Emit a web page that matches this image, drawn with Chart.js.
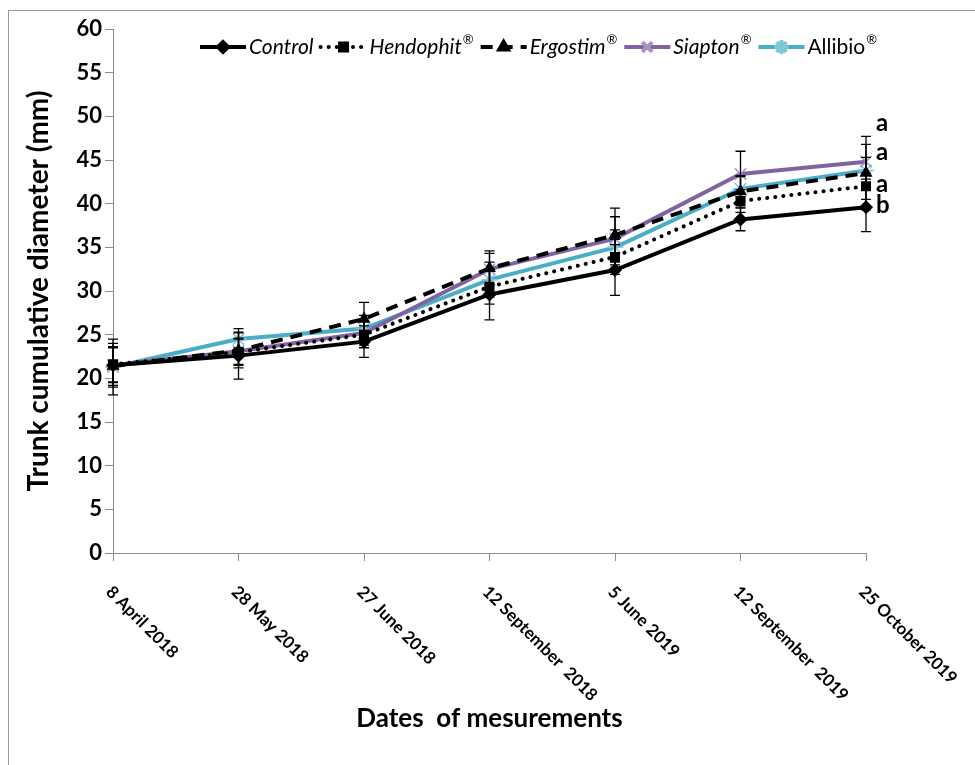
<!DOCTYPE html>
<html><head><meta charset="utf-8">
<script src="https://cdn.jsdelivr.net/npm/chart.js@4.4.1/dist/chart.umd.min.js"></script>
<style>
html,body{margin:0;padding:0;background:#fff;}
#wrap{position:relative;width:975px;height:765px;overflow:hidden;}
#frame{position:absolute;left:8px;top:10px;width:1000px;height:800px;border:1px solid #999;}
canvas{position:absolute;left:0;top:0;}
</style></head><body>
<div id="wrap"><div id="frame"></div><canvas id="c" width="975" height="765"></canvas></div>
<script>
const dates = ['8 April 2018','28 May 2018','27 June 2018','12 September  2018','5 June 2019','12 September  2019','25 October 2019'];
const seriesNames = ['Control','Hendophit','Ergostim','Siapton','Allibio'];
const control   = [21.5, 22.6, 24.2, 29.6, 32.4, 38.2, 39.6];
const hendophit = [21.6, 23.0, 25.0, 30.5, 33.9, 40.3, 42.0];
const ergostim  = [21.4, 23.2, 26.8, 32.6, 36.4, 41.4, 43.5];
const siapton   = [21.5, 23.1, 25.2, 32.5, 36.0, 43.4, 44.8];
const allibio   = [21.3, 24.5, 25.7, 31.3, 35.0, 41.7, 43.8];
const errControl   = [2.5, 2.7, 1.8, 2.9, 2.9, 1.3, 2.8];
const errHendophit = [2.0, 1.5, 1.5, 2.0, 2.0, 1.3, 1.5];
const errErgostim  = [2.2, 2.0, 1.9, 2.0, 3.1, 1.8, 4.2];
const errSiapton   = [2.0, 1.5, 1.4, 1.8, 2.5, 2.6, 2.0];
const errAllibio   = [3.2, 1.2, 1.5, 2.0, 2.0, 1.4, 1.5];
const sigLetters = ['b','a','a','a',''];
const yTicks = [0,5,10,15,20,25,30,35,40,45,50,55,60];

const FONT = 'Lato, "Open Sans", sans-serif';
const styles = [
  {color:'#000000', dash:[], cap:'butt', pt:'rectRot', r:6, ptBorder:'#000', ptFill:'#000', w:4},
  {color:'#000000', dash:[0.1,8], cap:'round', pt:'rect', r:6, ptBorder:'#000', ptFill:'#000', w:4},
  {color:'#000000', dash:[12,8], cap:'butt', pt:'triangle', r:6, ptBorder:'#000', ptFill:'#000', w:4},
  {color:'#8064A2', dash:[], cap:'butt', pt:'crossRot', r:8, ptBorder:'#A894C4', ptFill:'#A894C4', w:4},
  {color:'#4BACC6', dash:[], cap:'butt', pt:'star', r:8, ptBorder:'#7FC6DA', ptFill:'#7FC6DA', w:4}
];
const values = [control, hendophit, ergostim, siapton, allibio];
const errs = [errControl, errHendophit, errErgostim, errSiapton, errAllibio];
const legendItalic = [true,true,true,true,false];
const legendReg = [false,true,true,true,true];

const datasets = values.map((v,i)=>({
  label: seriesNames[i],
  data: v,
  borderColor: styles[i].color,
  backgroundColor: styles[i].ptFill,
  borderWidth: styles[i].w,
  borderDash: styles[i].dash,
  borderCapStyle: styles[i].cap,
  pointStyle: styles[i].pt,
  pointRadius: styles[i].r,
  pointBorderColor: styles[i].ptBorder,
  pointBackgroundColor: styles[i].ptFill,
  pointBorderWidth: 1.5,
  tension: 0,
  fill: false
}));

function drawMarker(ctx, i, x, y){
  const s = styles[i];
  Chart.helpers.drawPoint(ctx, {pointStyle:s.pt, radius:s.r - 1, rotation:0, borderWidth:1.5}, x, y);
}

const extrasPlugin = {
  id:'extras',
  afterDatasetsDraw(chart){
    const ctx = chart.ctx, xs = chart.scales.x, ys = chart.scales.y;
    ctx.save();
    ctx.strokeStyle = '#000'; ctx.lineWidth = 1.3; ctx.setLineDash([]);
    values.forEach((v,i)=>{
      v.forEach((val,j)=>{
        const x = xs.getPixelForValue(j);
        const y1 = ys.getPixelForValue(val - errs[i][j]);
        const y2 = ys.getPixelForValue(val + errs[i][j]);
        ctx.beginPath();
        ctx.moveTo(x,y1); ctx.lineTo(x,y2);
        ctx.moveTo(x-5,y1); ctx.lineTo(x+5,y1);
        ctx.moveTo(x-5,y2); ctx.lineTo(x+5,y2);
        ctx.stroke();
      });
    });
    ctx.fillStyle = '#000';
    ctx.font = 'bold 24px ' + FONT;
    ctx.textAlign = 'left'; ctx.textBaseline = 'middle';
    const last = dates.length - 1;
    const lx = xs.getPixelForValue(last) + 10;
    sigLetters.forEach((l,i)=>{
      if(!l) return;
      let val = values[i][last];
      if(i===2) val = values[i][last] + errs[i][last] + 1.3;
      if(i===3) val = values[i][last] + 0.8;
      ctx.fillText(l, lx, ys.getPixelForValue(val) - 2);
    });
    ctx.restore();
  },
  afterDraw(chart){
    const ctx = chart.ctx, xs = chart.scales.x;
    ctx.save();
    ctx.fillStyle = '#000';
    ctx.font = 'bold 17px ' + FONT;
    ctx.textAlign = 'left'; ctx.textBaseline = 'middle';
    dates.forEach((d,j)=>{
      const x = xs.getPixelForValue(j);
      ctx.save();
      ctx.translate(x - 4, 589);
      ctx.rotate(Math.PI/4);
      ctx.fillText(d, 0, 0);
      ctx.restore();
    });
    let x = 200; const y = 47;
    values.forEach((v,i)=>{
      const s = styles[i];
      ctx.save();
      ctx.strokeStyle = s.color; ctx.lineWidth = s.w; ctx.lineCap = s.cap;
      ctx.setLineDash(s.dash);
      ctx.beginPath(); ctx.moveTo(x, y); ctx.lineTo(x+46, y); ctx.stroke();
      ctx.setLineDash([]);
      ctx.fillStyle = s.ptFill; ctx.strokeStyle = s.ptBorder;
      drawMarker(ctx, i, x+23, y);
      ctx.restore();
      x += 49;
      ctx.fillStyle = '#000';
      ctx.textAlign = 'left'; ctx.textBaseline = 'middle';
      ctx.font = (legendItalic[i] ? 'italic ' : '') + '21px ' + FONT;
      ctx.fillText(seriesNames[i], x, y);
      x += ctx.measureText(seriesNames[i]).width;
      if(legendReg[i]){
        ctx.font = '13px ' + FONT;
        ctx.fillText('®', x+1, y-7);
        x += ctx.measureText('®').width + 1;
      }
      x += 7;
    });
    ctx.restore();
  }
};

new Chart(document.getElementById('c'), {
  type:'line',
  data:{labels:dates, datasets},
  options:{
    responsive:false, animation:false, devicePixelRatio:1,
    layout:{padding:{left:0, right:109, top:29, bottom:20}},
    plugins:{legend:{display:false}, tooltip:{enabled:false}},
    scales:{
      x:{
        offset:false,
        grid:{drawOnChartArea:false, drawTicks:true, tickLength:8, color:'#8a8a8a'},
        border:{color:'#8a8a8a', width:1},
        ticks:{display:false},
        title:{display:true, text:'Dates  of mesurements', color:'#000', font:{family:FONT, size:26, weight:'bold'}, padding:{top:0,bottom:11}},
        afterFit(s){ s.height = 192; }
      },
      y:{
        min:0, max:60,
        afterBuildTicks(s){ s.ticks = yTicks.map(v=>({value:v})); },
        grid:{drawOnChartArea:false, drawTicks:true, tickLength:8, color:'#8a8a8a'},
        border:{color:'#8a8a8a', width:1},
        ticks:{color:'#000', padding:3, font:{family:FONT, size:22, weight:'bold'}},
        title:{display:true, text:'Trunk cumulative diameter (mm)', color:'#000', font:{family:FONT, size:28, weight:'bold'}, padding:{top:22,bottom:0}},
        afterFit(s){ s.width = 113; }
      }
    }
  },
  plugins:[extrasPlugin]
});
</script>
</body></html>
